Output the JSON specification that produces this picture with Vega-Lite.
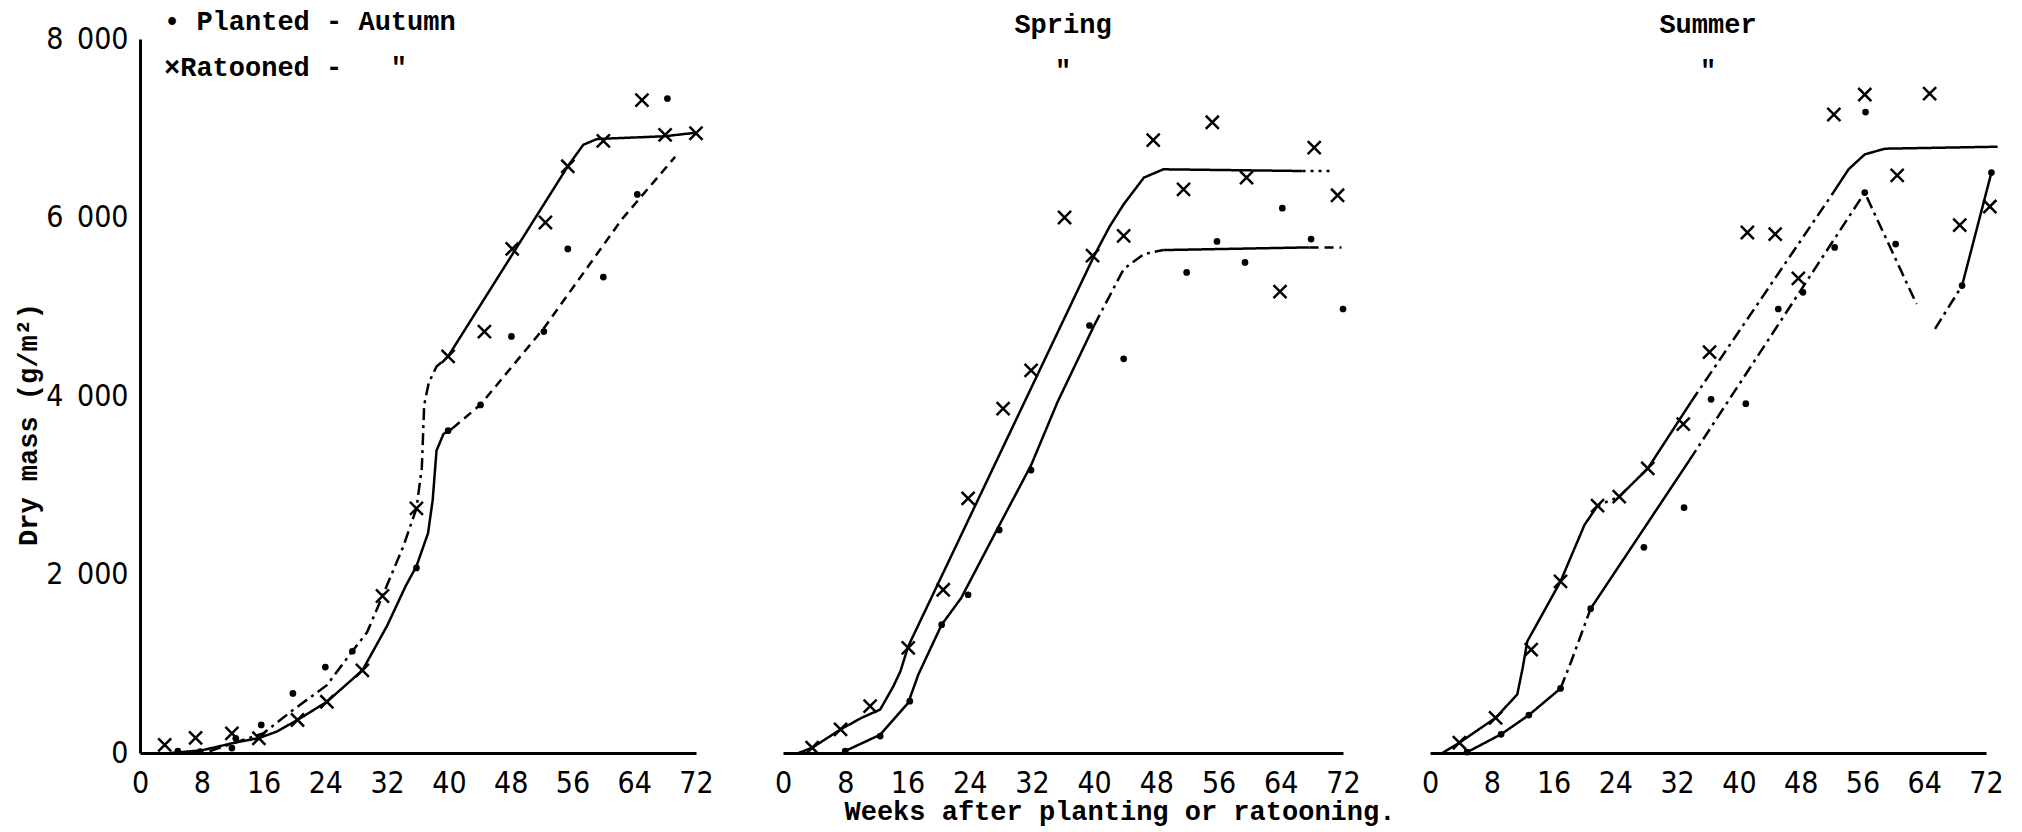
{
  "$schema": "https://vega.github.io/schema/vega-lite/v6.json",
  "background": "white",
  "padding": {"left": 14, "top": 8, "right": 10, "bottom": 24},
  "config": {
    "view": {"stroke": null},
    "font": "Liberation Mono",
    "axis": {
      "grid": false, "ticks": false, "tickSize": 0,
      "domainColor": "black", "domainWidth": 3,
      "labelFont": "Liberation Sans Narrow, DejaVu Sans Condensed, Liberation Sans",
      "labelFontSize": 30, "labelColor": "black", "labelFlush": false, "labelOverlap": false,
      "titleFont": "Liberation Mono", "titleFontSize": 27, "titleFontWeight": "bold", "titleColor": "black"
    },
    "title": {
      "font": "Liberation Mono", "fontSize": 27, "fontWeight": "bold", "color": "black",
      "subtitleFont": "Liberation Mono", "subtitleFontSize": 27, "subtitleFontWeight": "bold", "subtitleColor": "black",
      "subtitlePadding": 19, "offset": -46, "frame": "group"
    }
  },
  "datasets": {
    "obs": [
      {"season":"Autumn","type":"Planted","week":4.9,"mass":20},
      {"season":"Autumn","type":"Planted","week":7.8,"mass":15},
      {"season":"Autumn","type":"Planted","week":11.9,"mass":55},
      {"season":"Autumn","type":"Planted","week":12.4,"mass":165},
      {"season":"Autumn","type":"Planted","week":15.7,"mass":315},
      {"season":"Autumn","type":"Planted","week":19.8,"mass":667},
      {"season":"Autumn","type":"Planted","week":24.0,"mass":963},
      {"season":"Autumn","type":"Planted","week":27.5,"mass":1140},
      {"season":"Autumn","type":"Planted","week":35.8,"mass":2074},
      {"season":"Autumn","type":"Planted","week":39.9,"mass":3611},
      {"season":"Autumn","type":"Planted","week":44.1,"mass":3900},
      {"season":"Autumn","type":"Planted","week":48.1,"mass":4667},
      {"season":"Autumn","type":"Planted","week":52.3,"mass":4722},
      {"season":"Autumn","type":"Planted","week":55.4,"mass":5648},
      {"season":"Autumn","type":"Planted","week":60.0,"mass":5333},
      {"season":"Autumn","type":"Planted","week":64.4,"mass":6259},
      {"season":"Autumn","type":"Planted","week":68.3,"mass":7333},
      {"season":"Autumn","type":"Ratooned","week":3.2,"mass":90},
      {"season":"Autumn","type":"Ratooned","week":7.2,"mass":170},
      {"season":"Autumn","type":"Ratooned","week":11.9,"mass":220},
      {"season":"Autumn","type":"Ratooned","week":15.4,"mass":165},
      {"season":"Autumn","type":"Ratooned","week":20.4,"mass":370},
      {"season":"Autumn","type":"Ratooned","week":24.2,"mass":574},
      {"season":"Autumn","type":"Ratooned","week":28.8,"mass":926},
      {"season":"Autumn","type":"Ratooned","week":31.4,"mass":1759},
      {"season":"Autumn","type":"Ratooned","week":35.8,"mass":2740},
      {"season":"Autumn","type":"Ratooned","week":39.9,"mass":4444},
      {"season":"Autumn","type":"Ratooned","week":44.6,"mass":4722},
      {"season":"Autumn","type":"Ratooned","week":48.2,"mass":5648},
      {"season":"Autumn","type":"Ratooned","week":52.5,"mass":5944},
      {"season":"Autumn","type":"Ratooned","week":55.4,"mass":6574},
      {"season":"Autumn","type":"Ratooned","week":60.0,"mass":6859},
      {"season":"Autumn","type":"Ratooned","week":65.0,"mass":7315},
      {"season":"Autumn","type":"Ratooned","week":68.0,"mass":6926},
      {"season":"Autumn","type":"Ratooned","week":72.0,"mass":6944},
      {"season":"Spring","type":"Planted","week":8.0,"mass":22},
      {"season":"Spring","type":"Planted","week":12.5,"mass":190},
      {"season":"Spring","type":"Planted","week":16.3,"mass":581},
      {"season":"Spring","type":"Planted","week":20.4,"mass":1438},
      {"season":"Spring","type":"Planted","week":23.8,"mass":1773},
      {"season":"Spring","type":"Planted","week":27.8,"mass":2499},
      {"season":"Spring","type":"Planted","week":31.9,"mass":3170},
      {"season":"Spring","type":"Planted","week":39.4,"mass":4790},
      {"season":"Spring","type":"Planted","week":43.8,"mass":4417},
      {"season":"Spring","type":"Planted","week":51.9,"mass":5385},
      {"season":"Spring","type":"Planted","week":55.8,"mass":5732},
      {"season":"Spring","type":"Planted","week":59.4,"mass":5497},
      {"season":"Spring","type":"Planted","week":64.2,"mass":6104},
      {"season":"Spring","type":"Planted","week":67.9,"mass":5758},
      {"season":"Spring","type":"Planted","week":72.0,"mass":4975},
      {"season":"Spring","type":"Ratooned","week":3.75,"mass":59},
      {"season":"Spring","type":"Ratooned","week":7.4,"mass":264},
      {"season":"Spring","type":"Ratooned","week":11.2,"mass":525},
      {"season":"Spring","type":"Ratooned","week":16.1,"mass":1177},
      {"season":"Spring","type":"Ratooned","week":20.6,"mass":1829},
      {"season":"Spring","type":"Ratooned","week":23.8,"mass":2853},
      {"season":"Spring","type":"Ratooned","week":28.3,"mass":3858},
      {"season":"Spring","type":"Ratooned","week":31.9,"mass":4287},
      {"season":"Spring","type":"Ratooned","week":36.2,"mass":6000},
      {"season":"Spring","type":"Ratooned","week":39.8,"mass":5572},
      {"season":"Spring","type":"Ratooned","week":43.8,"mass":5795},
      {"season":"Spring","type":"Ratooned","week":47.6,"mass":6868},
      {"season":"Spring","type":"Ratooned","week":51.5,"mass":6316},
      {"season":"Spring","type":"Ratooned","week":55.2,"mass":7067},
      {"season":"Spring","type":"Ratooned","week":59.6,"mass":6447},
      {"season":"Spring","type":"Ratooned","week":63.9,"mass":5169},
      {"season":"Spring","type":"Ratooned","week":68.3,"mass":6782},
      {"season":"Spring","type":"Ratooned","week":71.3,"mass":6249},
      {"season":"Summer","type":"Planted","week":4.8,"mass":10},
      {"season":"Summer","type":"Planted","week":9.2,"mass":209},
      {"season":"Summer","type":"Planted","week":12.8,"mass":425},
      {"season":"Summer","type":"Planted","week":16.9,"mass":723},
      {"season":"Summer","type":"Planted","week":20.8,"mass":1617},
      {"season":"Summer","type":"Planted","week":27.7,"mass":2305},
      {"season":"Summer","type":"Planted","week":32.9,"mass":2749},
      {"season":"Summer","type":"Planted","week":36.4,"mass":3963},
      {"season":"Summer","type":"Planted","week":40.9,"mass":3914},
      {"season":"Summer","type":"Planted","week":45.1,"mass":4975},
      {"season":"Summer","type":"Planted","week":48.3,"mass":5162},
      {"season":"Summer","type":"Planted","week":52.4,"mass":5665},
      {"season":"Summer","type":"Planted","week":56.4,"mass":7181},
      {"season":"Summer","type":"Planted","week":56.3,"mass":6279},
      {"season":"Summer","type":"Planted","week":60.3,"mass":5702},
      {"season":"Summer","type":"Planted","week":68.9,"mass":5237},
      {"season":"Summer","type":"Planted","week":72.7,"mass":6503},
      {"season":"Summer","type":"Ratooned","week":3.8,"mass":115},
      {"season":"Summer","type":"Ratooned","week":8.5,"mass":394},
      {"season":"Summer","type":"Ratooned","week":13.1,"mass":1159},
      {"season":"Summer","type":"Ratooned","week":16.9,"mass":1922},
      {"season":"Summer","type":"Ratooned","week":21.7,"mass":2771},
      {"season":"Summer","type":"Ratooned","week":24.5,"mass":2872},
      {"season":"Summer","type":"Ratooned","week":28.2,"mass":3188},
      {"season":"Summer","type":"Ratooned","week":32.8,"mass":3685},
      {"season":"Summer","type":"Ratooned","week":36.2,"mass":4492},
      {"season":"Summer","type":"Ratooned","week":41.1,"mass":5832},
      {"season":"Summer","type":"Ratooned","week":44.7,"mass":5814},
      {"season":"Summer","type":"Ratooned","week":47.7,"mass":5318},
      {"season":"Summer","type":"Ratooned","week":52.3,"mass":7154},
      {"season":"Summer","type":"Ratooned","week":56.3,"mass":7378},
      {"season":"Summer","type":"Ratooned","week":60.5,"mass":6473},
      {"season":"Summer","type":"Ratooned","week":64.7,"mass":7389},
      {"season":"Summer","type":"Ratooned","week":68.6,"mass":5914},
      {"season":"Summer","type":"Ratooned","week":72.5,"mass":6123}
    ],
    "curves": [
      {"season":"Autumn","segment":"A1","linetype":"solid","week":4,"mass":0},
      {"season":"Autumn","segment":"A1","linetype":"solid","week":8,"mass":30},
      {"season":"Autumn","segment":"A1","linetype":"solid","week":12.5,"mass":120},
      {"season":"Autumn","segment":"A1","linetype":"solid","week":15.4,"mass":167},
      {"season":"Autumn","segment":"A1","linetype":"solid","week":17.7,"mass":240},
      {"season":"Autumn","segment":"A1","linetype":"solid","week":20.4,"mass":370},
      {"season":"Autumn","segment":"A1","linetype":"solid","week":24.2,"mass":574},
      {"season":"Autumn","segment":"A1","linetype":"solid","week":28.8,"mass":926},
      {"season":"Autumn","segment":"A1","linetype":"solid","week":32,"mass":1426},
      {"season":"Autumn","segment":"A1","linetype":"solid","week":34.4,"mass":1870},
      {"season":"Autumn","segment":"A1","linetype":"solid","week":35.8,"mass":2093},
      {"season":"Autumn","segment":"A1","linetype":"solid","week":37.3,"mass":2463},
      {"season":"Autumn","segment":"A1","linetype":"solid","week":37.9,"mass":2833},
      {"season":"Autumn","segment":"A1","linetype":"solid","week":38.4,"mass":3389},
      {"season":"Autumn","segment":"A1","linetype":"solid","week":39.3,"mass":3574},
      {"season":"Autumn","segment":"A1","linetype":"solid","week":40.5,"mass":3640},
      {"season":"Autumn","segment":"A2","linetype":"dashed","week":40.5,"mass":3640},
      {"season":"Autumn","segment":"A2","linetype":"dashed","week":44.1,"mass":3904},
      {"season":"Autumn","segment":"A2","linetype":"dashed","week":52.3,"mass":4760},
      {"season":"Autumn","segment":"A2","linetype":"dashed","week":62.4,"mass":5980},
      {"season":"Autumn","segment":"A2","linetype":"dashed","week":69.3,"mass":6680},
      {"season":"Autumn","segment":"B1","linetype":"dashdot","week":9,"mass":20},
      {"season":"Autumn","segment":"B1","linetype":"dashdot","week":16,"mass":222},
      {"season":"Autumn","segment":"B1","linetype":"dashdot","week":19.8,"mass":481},
      {"season":"Autumn","segment":"B1","linetype":"dashdot","week":24.2,"mass":760},
      {"season":"Autumn","segment":"B1","linetype":"dashdot","week":27.5,"mass":1140},
      {"season":"Autumn","segment":"B1","linetype":"dashdot","week":29.4,"mass":1352},
      {"season":"Autumn","segment":"B1","linetype":"dashdot","week":31.4,"mass":1759},
      {"season":"Autumn","segment":"B1","linetype":"dashdot","week":34.1,"mass":2315},
      {"season":"Autumn","segment":"B1","linetype":"dashdot","week":35.8,"mass":2740},
      {"season":"Autumn","segment":"B1","linetype":"dashdot","week":36.5,"mass":3200},
      {"season":"Autumn","segment":"B1","linetype":"dashdot","week":36.8,"mass":3900},
      {"season":"Autumn","segment":"B1","linetype":"dashdot","week":37.4,"mass":4150},
      {"season":"Autumn","segment":"B1","linetype":"dashdot","week":38.4,"mass":4330},
      {"season":"Autumn","segment":"B1","linetype":"dashdot","week":39.9,"mass":4444},
      {"season":"Autumn","segment":"B2","linetype":"solid","week":39.9,"mass":4444},
      {"season":"Autumn","segment":"B2","linetype":"solid","week":55.4,"mass":6574},
      {"season":"Autumn","segment":"B2","linetype":"solid","week":57.4,"mass":6815},
      {"season":"Autumn","segment":"B2","linetype":"solid","week":59.2,"mass":6880},
      {"season":"Autumn","segment":"B2","linetype":"solid","week":67.9,"mass":6910},
      {"season":"Autumn","segment":"B2","linetype":"solid","week":72,"mass":6950},
      {"season":"Spring","segment":"R1","linetype":"solid","week":2,"mass":0},
      {"season":"Spring","segment":"R1","linetype":"solid","week":3.75,"mass":59},
      {"season":"Spring","segment":"R1","linetype":"solid","week":7.4,"mass":264},
      {"season":"Spring","segment":"R1","linetype":"solid","week":10.1,"mass":394},
      {"season":"Spring","segment":"R1","linetype":"solid","week":12.5,"mass":487},
      {"season":"Spring","segment":"R1","linetype":"solid","week":14.2,"mass":749},
      {"season":"Spring","segment":"R1","linetype":"solid","week":15.1,"mass":916},
      {"season":"Spring","segment":"R1","linetype":"solid","week":16.1,"mass":1195},
      {"season":"Spring","segment":"R1","linetype":"solid","week":40,"mass":5571},
      {"season":"Spring","segment":"R1","linetype":"solid","week":42,"mass":5900},
      {"season":"Spring","segment":"R1","linetype":"solid","week":43.8,"mass":6148},
      {"season":"Spring","segment":"R1","linetype":"solid","week":46.4,"mass":6447},
      {"season":"Spring","segment":"R1","linetype":"solid","week":48.9,"mass":6540},
      {"season":"Spring","segment":"R1","linetype":"solid","week":66.8,"mass":6521},
      {"season":"Spring","segment":"R2","linetype":"dotted","week":66.8,"mass":6521},
      {"season":"Spring","segment":"R2","linetype":"dotted","week":70.7,"mass":6521},
      {"season":"Spring","segment":"P1","linetype":"solid","week":7.6,"mass":0},
      {"season":"Spring","segment":"P1","linetype":"solid","week":8,"mass":22},
      {"season":"Spring","segment":"P1","linetype":"solid","week":12.5,"mass":205},
      {"season":"Spring","segment":"P1","linetype":"solid","week":16.1,"mass":562},
      {"season":"Spring","segment":"P1","linetype":"solid","week":17.4,"mass":879},
      {"season":"Spring","segment":"P1","linetype":"solid","week":20.4,"mass":1438},
      {"season":"Spring","segment":"P1","linetype":"solid","week":22.9,"mass":1735},
      {"season":"Spring","segment":"P1","linetype":"solid","week":27.6,"mass":2517},
      {"season":"Spring","segment":"P1","linetype":"solid","week":31.9,"mass":3225},
      {"season":"Spring","segment":"P1","linetype":"solid","week":35.3,"mass":3933},
      {"season":"Spring","segment":"P1","linetype":"solid","week":40,"mass":4790},
      {"season":"Spring","segment":"P2","linetype":"dashdot","week":40,"mass":4790},
      {"season":"Spring","segment":"P2","linetype":"dashdot","week":43.8,"mass":5422},
      {"season":"Spring","segment":"P2","linetype":"dashdot","week":46.4,"mass":5590},
      {"season":"Spring","segment":"P2","linetype":"dashdot","week":48.9,"mass":5635},
      {"season":"Spring","segment":"P3","linetype":"solid","week":48.9,"mass":5635},
      {"season":"Spring","segment":"P3","linetype":"solid","week":67.7,"mass":5665},
      {"season":"Spring","segment":"P4","linetype":"dashed","week":67.7,"mass":5665},
      {"season":"Spring","segment":"P4","linetype":"dashed","week":71.8,"mass":5665},
      {"season":"Summer","segment":"R1","linetype":"solid","week":1.6,"mass":0},
      {"season":"Summer","segment":"R1","linetype":"solid","week":3.8,"mass":115},
      {"season":"Summer","segment":"R1","linetype":"solid","week":8.5,"mass":394},
      {"season":"Summer","segment":"R1","linetype":"solid","week":11.3,"mass":656},
      {"season":"Summer","segment":"R1","linetype":"solid","week":12,"mass":953},
      {"season":"Summer","segment":"R1","linetype":"solid","week":12.6,"mass":1251},
      {"season":"Summer","segment":"R1","linetype":"solid","week":16.9,"mass":1922},
      {"season":"Summer","segment":"R1","linetype":"solid","week":20,"mass":2555},
      {"season":"Summer","segment":"R1","linetype":"solid","week":21.7,"mass":2771},
      {"season":"Summer","segment":"R2","linetype":"dotted","week":21.7,"mass":2771},
      {"season":"Summer","segment":"R2","linetype":"dotted","week":24.5,"mass":2872},
      {"season":"Summer","segment":"R3","linetype":"solid","week":24.5,"mass":2872},
      {"season":"Summer","segment":"R3","linetype":"solid","week":28.2,"mass":3188},
      {"season":"Summer","segment":"R3","linetype":"solid","week":33.8,"mass":3933},
      {"season":"Summer","segment":"R4","linetype":"dashdot","week":33.8,"mass":3933},
      {"season":"Summer","segment":"R4","linetype":"dashdot","week":52,"mass":6250},
      {"season":"Summer","segment":"R5","linetype":"solid","week":52,"mass":6250},
      {"season":"Summer","segment":"R5","linetype":"solid","week":54.2,"mass":6540},
      {"season":"Summer","segment":"R5","linetype":"solid","week":56.3,"mass":6707},
      {"season":"Summer","segment":"R5","linetype":"solid","week":58.9,"mass":6771},
      {"season":"Summer","segment":"R5","linetype":"solid","week":73.5,"mass":6793},
      {"season":"Summer","segment":"P1","linetype":"solid","week":4.6,"mass":0},
      {"season":"Summer","segment":"P1","linetype":"solid","week":9.2,"mass":209},
      {"season":"Summer","segment":"P1","linetype":"solid","week":12.8,"mass":425},
      {"season":"Summer","segment":"P1","linetype":"solid","week":16.9,"mass":723},
      {"season":"Summer","segment":"P2","linetype":"dashdot","week":16.9,"mass":723},
      {"season":"Summer","segment":"P2","linetype":"dashdot","week":18.3,"mass":1028},
      {"season":"Summer","segment":"P2","linetype":"dashdot","week":20.8,"mass":1617},
      {"season":"Summer","segment":"P3","linetype":"solid","week":20.8,"mass":1617},
      {"season":"Summer","segment":"P3","linetype":"solid","week":33.6,"mass":3281},
      {"season":"Summer","segment":"P4","linetype":"dashdot","week":33.6,"mass":3281},
      {"season":"Summer","segment":"P4","linetype":"dashdot","week":56.3,"mass":6279},
      {"season":"Summer","segment":"P4","linetype":"dashdot","week":63,"mass":5031},
      {"season":"Summer","segment":"P5","linetype":"dashdot","week":65.4,"mass":4752},
      {"season":"Summer","segment":"P5","linetype":"dashdot","week":68.9,"mass":5237},
      {"season":"Summer","segment":"P6","linetype":"solid","week":68.9,"mass":5237},
      {"season":"Summer","segment":"P6","linetype":"solid","week":72.7,"mass":6503}
    ]
  },
  "bounds": "flush",
  "spacing": 87,
  "hconcat": [
    {
      "width": 556, "height": 714,
      "title": {"text": "•\u00a0Planted - Autumn", "subtitle": "×Ratooned -\u00a0\u00a0\u00a0\"", "anchor": "start", "dx": 24, "offset": -58},
      "encoding": {
        "x": {"field": "week", "type": "quantitative", "scale": {"domain": [0, 72], "nice": false},
              "axis": {"values": [0,8,16,24,32,40,48,56,64,72], "title": null, "labelPadding": 15}},
        "y": {"field": "mass", "type": "quantitative", "scale": {"domain": [0, 8000], "nice": false},
              "axis": {"values": [0,2000,4000,6000,8000], "labelExpr": "replace(format(datum.value, ','), ',', '\u2002')",
                       "labelPadding": 12, "title": "Dry mass (g/m²)", "titleX": -112, "titleY": 385,
                       "titleAngle": 270, "titleBaseline": "middle", "titleAlign": "center"}}
      },
      "layer": [
        {"data": {"name": "curves"}, "transform": [{"filter": "datum.season === 'Autumn'"}],
         "mark": {"type": "line", "color": "black", "strokeWidth": 2.5},
         "encoding": {"detail": {"field": "segment"},
           "strokeDash": {"field": "linetype", "type": "nominal", "legend": null,
             "scale": {"domain": ["solid","dashdot","dashed","dotted"], "range": [[1,0],[12,5,3,5],[9,6],[3,5]]}}}},
        {"data": {"name": "obs"}, "transform": [{"filter": "datum.season === 'Autumn' && datum.type === 'Planted'"}],
         "mark": {"type": "point", "shape": "circle", "filled": true, "color": "black", "size": 45, "opacity": 1}},
        {"data": {"name": "obs"}, "transform": [{"filter": "datum.season === 'Autumn' && datum.type === 'Ratooned'"}],
         "mark": {"type": "point", "shape": "M-1,-1L1,1M1,-1L-1,1", "filled": false, "color": "black", "strokeWidth": 2.5, "size": 170, "opacity": 1}}
      ]
    },
    {
      "width": 560, "height": 714,
      "title": {"text": "Spring", "subtitle": "\""},
      "encoding": {
        "x": {"field": "week", "type": "quantitative", "scale": {"domain": [0, 72], "nice": false},
              "axis": {"values": [0,8,16,24,32,40,48,56,64,72], "labelPadding": 15,
                       "title": "Weeks after planting or ratooning.", "titleX": 61, "titleY": 58,
                       "titleAlign": "left", "titleBaseline": "middle"}},
        "y": {"field": "mass", "type": "quantitative", "scale": {"domain": [0, 8000], "nice": false}, "axis": null}
      },
      "layer": [
        {"data": {"name": "curves"}, "transform": [{"filter": "datum.season === 'Spring'"}],
         "mark": {"type": "line", "color": "black", "strokeWidth": 2.5},
         "encoding": {"detail": {"field": "segment"},
           "strokeDash": {"field": "linetype", "type": "nominal", "legend": null,
             "scale": {"domain": ["solid","dashdot","dashed","dotted"], "range": [[1,0],[12,5,3,5],[9,6],[3,5]]}}}},
        {"data": {"name": "obs"}, "transform": [{"filter": "datum.season === 'Spring' && datum.type === 'Planted'"}],
         "mark": {"type": "point", "shape": "circle", "filled": true, "color": "black", "size": 45, "opacity": 1}},
        {"data": {"name": "obs"}, "transform": [{"filter": "datum.season === 'Spring' && datum.type === 'Ratooned'"}],
         "mark": {"type": "point", "shape": "M-1,-1L1,1M1,-1L-1,1", "filled": false, "color": "black", "strokeWidth": 2.5, "size": 170, "opacity": 1}}
      ]
    },
    {
      "width": 556, "height": 714,
      "title": {"text": "Summer", "subtitle": "\""},
      "encoding": {
        "x": {"field": "week", "type": "quantitative", "scale": {"domain": [0, 72], "nice": false},
              "axis": {"values": [0,8,16,24,32,40,48,56,64,72], "labelPadding": 15, "title": null}},
        "y": {"field": "mass", "type": "quantitative", "scale": {"domain": [0, 8000], "nice": false}, "axis": null}
      },
      "layer": [
        {"data": {"name": "curves"}, "transform": [{"filter": "datum.season === 'Summer'"}],
         "mark": {"type": "line", "color": "black", "strokeWidth": 2.5},
         "encoding": {"detail": {"field": "segment"},
           "strokeDash": {"field": "linetype", "type": "nominal", "legend": null,
             "scale": {"domain": ["solid","dashdot","dashed","dotted"], "range": [[1,0],[12,5,3,5],[9,6],[3,5]]}}}},
        {"data": {"name": "obs"}, "transform": [{"filter": "datum.season === 'Summer' && datum.type === 'Planted'"}],
         "mark": {"type": "point", "shape": "circle", "filled": true, "color": "black", "size": 45, "opacity": 1}},
        {"data": {"name": "obs"}, "transform": [{"filter": "datum.season === 'Summer' && datum.type === 'Ratooned'"}],
         "mark": {"type": "point", "shape": "M-1,-1L1,1M1,-1L-1,1", "filled": false, "color": "black", "strokeWidth": 2.5, "size": 170, "opacity": 1}}
      ]
    }
  ]
}
